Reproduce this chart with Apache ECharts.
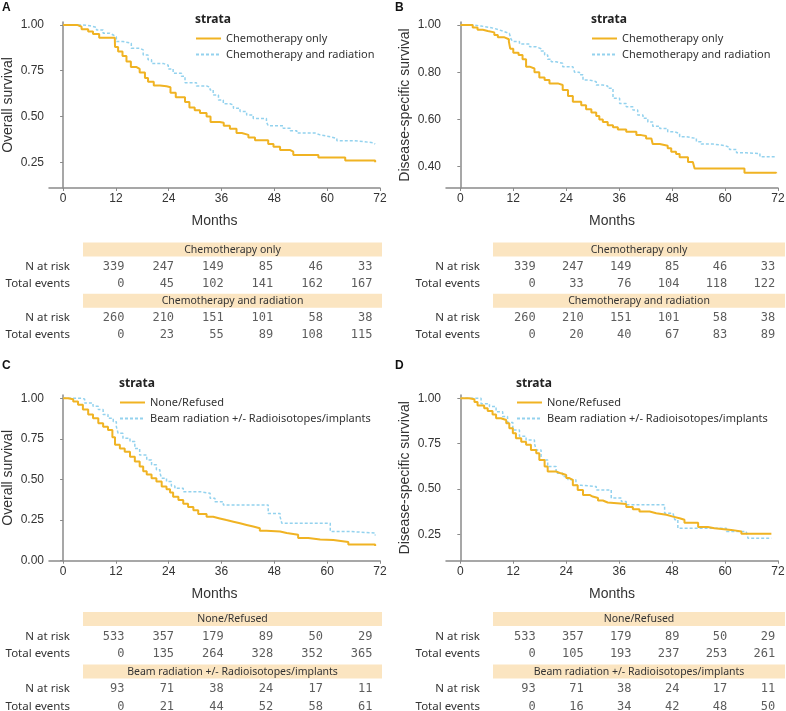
<!DOCTYPE html>
<html lang="en">
<head>
<meta charset="UTF-8">
<title>Kaplan-Meier curves</title>
<script src="https://cdn.jsdelivr.net/npm/echarts@6/dist/echarts.min.js"></script>
<style>
    html, body { margin: 0; padding: 0; background: #fff; }
    #main { width: 786px; height: 711px; }
</style>
</head>
<body>
<div id="main"></div>
<script>
// --- data ---
const axisMonths = [0, 12, 24, 36, 48, 60, 72];
const riskTimes = [0, 12, 24, 36, 48, 60];
const rowLabels = ['', 'N at risk', 'Total events', '', 'N at risk', 'Total events'];

const groupsAB = ['Chemotherapy only', 'Chemotherapy and radiation'];
const groupsCD = ['None/Refused', 'Beam radiation +/- Radioisotopes/implants'];

const yTicksA = [0.25, 0.50, 0.75, 1.00];
const yTicksB = [0.40, 0.60, 0.80, 1.00];
const yTicksC = [0.00, 0.25, 0.50, 0.75, 1.00];
const yTicksD = [0.25, 0.50, 0.75, 1.00];

// survival steps [month, survival]
const kmA1 = [[0,1],[3.2,0.99],[4.2,0.976],[5.7,0.964],[6.8,0.95],[8.2,0.93],[11.75,0.92],[11.8,0.88],[12.5,0.855],[13.5,0.83],[14.4,0.80],[15.4,0.77],[16.7,0.76],[17.4,0.74],[18.6,0.71],[19.3,0.69],[20.6,0.67],[22,0.665],[23.5,0.66],[24.4,0.63],[25.6,0.605],[27.7,0.58],[28.7,0.55],[29.9,0.535],[31.1,0.52],[32.6,0.50],[33.5,0.47],[35.6,0.466],[36.5,0.45],[37.9,0.434],[39.4,0.41],[40.6,0.40],[42.1,0.386],[43.6,0.37],[46.6,0.35],[47.8,0.335],[49.3,0.317],[51.6,0.308],[52.3,0.29],[58,0.277],[64.1,0.26],[70.9,0.25]];
const kmA2 = [[0,1],[4.5,0.995],[6.1,0.987],[7.6,0.973],[9.1,0.955],[10.6,0.945],[11.4,0.936],[12.1,0.91],[13.6,0.90],[15.5,0.873],[17.4,0.864],[18.2,0.836],[19.3,0.81],[20.1,0.79],[22.7,0.78],[23.9,0.76],[25,0.736],[26.9,0.72],[27.7,0.685],[30.3,0.667],[32.6,0.66],[33.4,0.645],[34.1,0.617],[35.3,0.59],[36.4,0.57],[37.9,0.563],[38.7,0.545],[40.2,0.527],[41.7,0.508],[43.2,0.49],[46.2,0.47],[46.6,0.45],[50,0.436],[51.6,0.423],[53.1,0.41],[57.2,0.40],[58.4,0.39],[60.7,0.38],[62.2,0.368],[66,0.363],[68.2,0.357],[70.5,0.35],[70.9,0.35]];
const kmB1 = [[0,1],[2.8,0.99],[3.9,0.98],[5.1,0.975],[6.2,0.969],[7.7,0.958],[8.5,0.948],[10,0.94],[11,0.93],[11.3,0.90],[12,0.883],[13.2,0.873],[14.1,0.855],[14.9,0.824],[15.7,0.816],[16.8,0.80],[17.9,0.778],[19.1,0.767],[20.2,0.753],[22.1,0.746],[23.2,0.725],[24.4,0.70],[25.5,0.675],[27.4,0.66],[28.5,0.643],[29.7,0.63],[30.8,0.615],[31.5,0.60],[32.3,0.59],[33.4,0.576],[34.6,0.567],[35.7,0.558],[37.6,0.548],[39.9,0.534],[41,0.53],[42.1,0.52],[43.3,0.513],[43.6,0.496],[45.2,0.489],[47,0.478],[47.8,0.463],[48.9,0.454],[49.7,0.44],[51.6,0.42],[52.7,0.414],[53.1,0.393],[64.4,0.375],[71.6,0.372]];
const kmB2 = [[0,1],[3.2,0.996],[4.7,0.99],[6.6,0.986],[7.7,0.979],[8.9,0.972],[10,0.965],[11.1,0.958],[11.5,0.94],[11.9,0.93],[13.4,0.92],[15.7,0.908],[17.2,0.90],[18.3,0.89],[19.1,0.873],[19.8,0.855],[20.6,0.845],[21.7,0.838],[23.2,0.824],[25.5,0.816],[25.9,0.80],[27,0.79],[27.8,0.767],[29.3,0.76],[30.8,0.746],[32.3,0.742],[33.4,0.732],[34.6,0.69],[36.1,0.668],[37.6,0.654],[39.1,0.64],[40.2,0.619],[41.4,0.605],[42.5,0.59],[43.6,0.572],[45.2,0.562],[47,0.548],[48.6,0.541],[49.7,0.527],[51.2,0.52],[53.5,0.506],[54.6,0.496],[57.3,0.49],[59.9,0.482],[61,0.473],[62.6,0.459],[64.8,0.456],[67.9,0.442],[71.6,0.442]];
const kmC1 = [[0,1],[1.1,0.994],[2.3,0.98],[3.4,0.96],[4.5,0.93],[5.7,0.90],[6.8,0.877],[8,0.846],[9.1,0.825],[10.2,0.805],[11.2,0.76],[11.8,0.713],[12.9,0.69],[14,0.67],[15.2,0.64],[16.3,0.61],[17.4,0.58],[18.2,0.55],[19,0.53],[20.1,0.507],[21.2,0.487],[22.4,0.456],[23.5,0.44],[24.3,0.42],[25,0.394],[26.2,0.374],[27.3,0.35],[28.4,0.33],[29.6,0.31],[30.7,0.287],[32.6,0.27],[34.1,0.26],[35.6,0.25],[37.1,0.24],[38.7,0.23],[40.2,0.22],[41.7,0.21],[43.2,0.20],[44.7,0.185],[46.2,0.18],[49.3,0.17],[50.8,0.16],[53.4,0.14],[55.7,0.13],[58.4,0.127],[61.4,0.115],[64.8,0.10],[70.9,0.09]];
const kmC2 = [[0,1],[4.2,0.995],[4.9,0.97],[6.8,0.95],[8,0.93],[9.1,0.90],[10.2,0.877],[11.4,0.856],[12.1,0.825],[12.5,0.784],[13.6,0.754],[15.2,0.733],[16.3,0.69],[17.4,0.65],[19,0.62],[20.1,0.59],[21.2,0.56],[22,0.54],[22.4,0.507],[23.5,0.487],[24.6,0.46],[25.4,0.446],[27.3,0.425],[31.1,0.415],[33.4,0.384],[34.5,0.363],[36.4,0.343],[46.6,0.29],[49.3,0.27],[49.7,0.23],[60.7,0.18],[65.2,0.17],[70.9,0.155]];
const kmD1 = [[0,1],[2,0.994],[3.2,0.98],[3.9,0.96],[5.4,0.945],[6.2,0.93],[7.3,0.91],[8.1,0.89],[9.2,0.88],[10.4,0.862],[11.1,0.835],[11.9,0.807],[12.6,0.78],[13.8,0.76],[14.9,0.743],[16,0.715],[17.2,0.697],[17.9,0.66],[19.1,0.623],[19.8,0.596],[21.7,0.586],[22.8,0.577],[24,0.56],[24.7,0.55],[25.5,0.52],[26.6,0.494],[27.8,0.467],[29.3,0.458],[30,0.45],[31.2,0.436],[32.3,0.425],[33.4,0.417],[37.6,0.40],[39.1,0.388],[40.6,0.375],[42.9,0.366],[44.4,0.357],[46.7,0.347],[48.2,0.338],[49.7,0.33],[50.8,0.314],[53.9,0.29],[56.1,0.283],[57.6,0.274],[61.4,0.265],[63.7,0.252],[70.5,0.25]];
const kmD2 = [[0,1],[4.7,0.97],[6.6,0.954],[8.1,0.926],[9.6,0.90],[10.7,0.866],[11.9,0.825],[13.4,0.79],[14.9,0.77],[16.8,0.75],[17.2,0.715],[18.3,0.66],[19.8,0.623],[21.7,0.586],[23.2,0.568],[24.4,0.55],[26.2,0.52],[27.4,0.513],[30.8,0.494],[34.2,0.45],[36.5,0.43],[37.6,0.412],[46.3,0.366],[48.2,0.357],[48.6,0.33],[49.3,0.283],[60.3,0.265],[64.8,0.256],[65.2,0.228],[70.5,0.228]];

// risk tables
const nRiskA1 = [339, 247, 149, 85, 46, 33];
const eventsA1 = [0, 45, 102, 141, 162, 167];
const nRiskA2 = [260, 210, 151, 101, 58, 38];
const eventsA2 = [0, 23, 55, 89, 108, 115];
const nRiskB1 = [339, 247, 149, 85, 46, 33];
const eventsB1 = [0, 33, 76, 104, 118, 122];
const nRiskB2 = [260, 210, 151, 101, 58, 38];
const eventsB2 = [0, 20, 40, 67, 83, 89];
const nRiskC1 = [533, 357, 179, 89, 50, 29];
const eventsC1 = [0, 135, 264, 328, 352, 365];
const nRiskC2 = [93, 71, 38, 24, 17, 11];
const eventsC2 = [0, 21, 44, 52, 58, 61];
const nRiskD1 = [533, 357, 179, 89, 50, 29];
const eventsD1 = [0, 105, 193, 237, 253, 261];
const nRiskD2 = [93, 71, 38, 24, 17, 11];
const eventsD2 = [0, 16, 34, 42, 48, 50];

// --- layout ---
const panels = [
    { letter: 'A', left: 49, top: 22, width: 331, height: 166, xMin: -3.2, yMin: 0.11, yMax: 1.016,
      yTicks: yTicksA, yName: 'Overall survival', lg: [195, 33], groups: groupsAB, curves: [kmA1, kmA2],
      risk: [nRiskA1, eventsA1, nRiskA2, eventsA2],
      tb: { left: 83, width: 299, top: 241, height: 102.6, xMin: -10.16, xMax: 62.18 } },
    { letter: 'B', left: 446, top: 22, width: 332, height: 166, xMin: -3.25, yMin: 0.31, yMax: 1.013,
      yTicks: yTicksB, yName: 'Disease-specific survival', lg: [591, 33], groups: groupsAB, curves: [kmB1, kmB2],
      risk: [nRiskB1, eventsB1, nRiskB2, eventsB2],
      tb: { left: 493, width: 292, top: 241, height: 102.6, xMin: -10.85, xMax: 62.33 } },
    { letter: 'C', left: 49, top: 395, width: 331, height: 165.7, xMin: -3.2, yMin: 0, yMax: 1.02,
      yTicks: yTicksC, yName: 'Overall survival', lg: [119, 397], groups: groupsCD, curves: [kmC1, kmC2],
      risk: [nRiskC1, eventsC1, nRiskC2, eventsC2],
      tb: { left: 83, width: 299, top: 610.2, height: 105.2, xMin: -10.16, xMax: 62.18 } },
    { letter: 'D', left: 446, top: 395, width: 332, height: 165.7, xMin: -3.25, yMin: 0.104, yMax: 1.018,
      yTicks: yTicksD, yName: 'Disease-specific survival', lg: [516, 397], groups: groupsCD, curves: [kmD1, kmD2],
      risk: [nRiskD1, eventsD1, nRiskD2, eventsD2],
      tb: { left: 493, width: 292, top: 610.2, height: 105.2, xMin: -10.85, xMax: 62.33 } }
];

const ORANGE = '#f0b323';
const BLUE = '#93d2ee';
const AXIS = '#8a8a8a';
const TXT = '#333';
const BAND = '#fbe5c1';
const SANS = 'Liberation Sans';
const HUM = 'Noto Sans';

const grid = [], xAxis = [], yAxis = [], series = [], title = [], legend = [];

panels.forEach(function (p, i) {
    // KM plot
    grid.push({ left: p.left, top: p.top, width: p.width, height: p.height, outerBoundsMode: 'none' });
    xAxis.push({
        type: 'value', gridIndex: i, min: p.xMin, max: 72,
        name: 'Months', nameLocation: 'middle', nameGap: 26,
        nameTextStyle: { fontFamily: SANS, fontSize: 14, color: TXT },
        axisLine: { lineStyle: { color: AXIS, width: 1.5 } },
        axisTick: { customValues: axisMonths, length: 3, lineStyle: { color: AXIS } },
        axisLabel: { customValues: axisMonths, fontFamily: SANS, fontSize: 12, color: TXT, margin: 5 },
        splitLine: { show: false }
    });
    yAxis.push({
        type: 'value', gridIndex: i, min: p.yMin, max: p.yMax,
        name: p.yName, nameLocation: 'middle', nameGap: 34,
        nameTextStyle: { fontFamily: SANS, fontSize: 14, color: TXT },
        axisLine: { show: true, lineStyle: { color: AXIS, width: 1.5 } },
        axisTick: { show: true, customValues: p.yTicks, length: 3, lineStyle: { color: AXIS } },
        axisLabel: { customValues: p.yTicks, fontFamily: SANS, fontSize: 12, color: TXT, margin: 5,
            formatter: function (v) { return v.toFixed(2); } },
        splitLine: { show: false }
    });
    p.curves.forEach(function (c, k) {
        series.push({
            type: 'line', name: p.groups[k], xAxisIndex: i, yAxisIndex: i,
            data: c, step: 'end', showSymbol: false, symbol: 'none',
            lineStyle: k === 0 ? { color: ORANGE, width: 2 } : { color: BLUE, width: 1.5, type: [3, 2] },
            itemStyle: { color: k === 0 ? ORANGE : BLUE },
            z: k === 0 ? 3 : 2
        });
    });
    title.push({ text: p.letter, left: i % 2 === 0 ? 2 : 395, top: i < 2 ? 2 : 360, padding: 0,
        textStyle: { fontFamily: SANS, fontSize: 12, fontWeight: 'bold', color: '#111' } });
    title.push({ text: 'strata', left: p.lg[0], top: p.lg[1] - 19, padding: 0,
        textStyle: { fontFamily: HUM, fontSize: 12, fontWeight: 'bold', color: '#222' } });
    legend.push({
        data: p.groups, orient: 'vertical', left: p.lg[0], top: p.lg[1], padding: 0,
        itemWidth: 25, itemHeight: 10, itemGap: 5, selectedMode: false,
        itemStyle: { opacity: 0 },
        textStyle: { fontFamily: HUM, fontSize: 11, color: TXT }
    });
});

// risk tables
panels.forEach(function (p, i) {
    const g = 4 + i;
    grid.push({ left: p.tb.left, top: p.tb.top, width: p.tb.width, height: p.tb.height, outerBoundsMode: 'none' });
    xAxis.push({ type: 'value', gridIndex: g, min: p.tb.xMin, max: p.tb.xMax, show: false });
    xAxis.push({ type: 'value', gridIndex: g, min: 0, max: 1, show: false });
    yAxis.push({
        type: 'category', gridIndex: g, inverse: true, data: ['g1', 'n1', 'e1', 'g2', 'n2', 'e2'],
        axisLine: { show: false }, axisTick: { show: false }, splitLine: { show: false },
        axisLabel: { margin: 13, fontFamily: HUM, fontSize: 11.5, color: TXT,
            formatter: function (v, idx) { return rowLabels[idx]; } }
    });
    const yi = 4 + i;
    series.push({
        type: 'bar', xAxisIndex: 4 + 2 * i + 1, yAxisIndex: yi, barWidth: 14, silent: true,
        data: [1, null, null, 1, null, null],
        itemStyle: { color: BAND },
        label: { show: true, position: 'inside', fontFamily: HUM, fontSize: 10.5, color: TXT,
            formatter: function (q) { return q.dataIndex === 0 ? p.groups[0] : p.groups[1]; } }
    });
    [1, 2, 4, 5].forEach(function (row, r) {
        const vals = p.risk[r];
        series.push({
            type: 'scatter', xAxisIndex: 4 + 2 * i, yAxisIndex: yi, symbolSize: 1, silent: true,
            itemStyle: { color: 'rgba(0,0,0,0)' },
            data: riskTimes.map(function (t, j) { return [t, row, vals[j]]; }),
            label: { show: true, position: 'left', distance: 0, fontFamily: 'DejaVu Sans Mono', fontSize: 12, color: TXT,
                formatter: function (q) { return String(q.value[2]); } }
        });
    });
});

const myChart = echarts.init(document.getElementById('main'));
myChart.setOption({
    animation: false,
    backgroundColor: '#fff',
    title: title,
    legend: legend,
    grid: grid,
    xAxis: xAxis,
    yAxis: yAxis,
    series: series
});
</script>
</body>
</html>
